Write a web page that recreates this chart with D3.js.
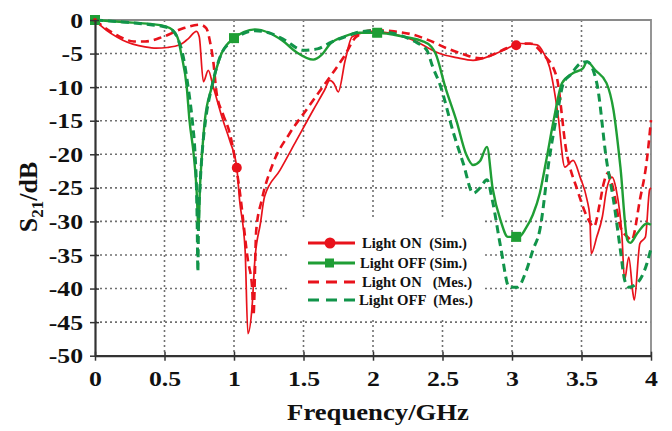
<!DOCTYPE html>
<html><head><meta charset="utf-8">
<script src="https://cdn.jsdelivr.net/npm/d3@7"></script>
<style>html,body{margin:0;padding:0;background:#fff}svg{display:block}</style>
</head><body>
<svg id="c" width="672" height="431"></svg>
<script>
// ---- data ----
const xTicks = [0, 0.5, 1, 1.5, 2, 2.5, 3, 3.5, 4];
const yTicks = [0, -5, -10, -15, -20, -25, -30, -35, -40, -45, -50];

const offSimF  = [0,0.2,0.4,0.5,0.56,0.6,0.62,0.66,0.68,0.71,0.73,0.745,0.755,0.77,0.79,0.84,0.91,1.0,1.07,1.15,1.25,1.35,1.45,1.57,1.63,1.69,1.8,1.9,2.03,2.15,2.25,2.35,2.42,2.45,2.52,2.6,2.67,2.72,2.77,2.82,2.86,2.92,2.97,3.05,3.1,3.15,3.2,3.25,3.3,3.36,3.44,3.51,3.54,3.6,3.68,3.73,3.78,3.83,3.85,3.9,3.97,4.0];
const offSimDB = [0,-0.3,-0.6,-0.9,-1.5,-3,-5,-10,-15,-20,-25,-31,-25,-20,-15,-10,-5,-2.7,-1.8,-1.4,-1.9,-3.1,-4.8,-5.9,-5.2,-3.6,-2.4,-1.9,-1.9,-2.2,-2.6,-3.1,-4,-5,-10,-15,-20,-21.6,-21,-18.9,-25,-30,-32.3,-32.3,-31,-29,-25.8,-20.5,-14.9,-9.4,-7.9,-7.2,-6.2,-7.5,-9.4,-13.4,-21.9,-32.8,-33.2,-31.8,-30.3,-30.5];

const offMesF  = [0,0.2,0.4,0.5,0.56,0.6,0.63,0.67,0.7,0.72,0.73,0.735,0.74,0.745,0.755,0.77,0.795,0.84,0.91,1.0,1.07,1.15,1.25,1.35,1.5,1.6,1.7,1.8,1.9,2.0,2.1,2.2,2.3,2.35,2.39,2.43,2.48,2.58,2.65,2.72,2.77,2.82,2.86,2.92,2.98,3.04,3.1,3.15,3.2,3.27,3.33,3.37,3.42,3.49,3.54,3.61,3.68,3.73,3.78,3.81,3.84,3.9,3.97,4.0];
const offMesDB = [0,-0.3,-0.7,-1.0,-1.6,-3,-5,-10,-15,-20,-25,-30,-37.5,-30,-25,-20,-15,-10,-5,-3,-2,-1.6,-1.9,-2.8,-4.5,-4.3,-3.3,-2.5,-1.8,-1.6,-1.8,-2.3,-3.2,-3.8,-4.6,-7,-9.5,-16.9,-21.4,-25.8,-25,-23.8,-27,-34,-39.8,-39.8,-37.5,-34.3,-31.3,-20.4,-13.4,-9.4,-8.2,-6.5,-6.2,-9.4,-20.9,-26.8,-34.3,-38.7,-39.8,-39.2,-36.3,-34];

const onSimF  = [0,0.05,0.2,0.36,0.44,0.52,0.61,0.67,0.73,0.75,0.78,0.815,0.85,0.92,0.97,1.02,1.04,1.08,1.10,1.13,1.15,1.19,1.22,1.33,1.45,1.57,1.65,1.69,1.72,1.75,1.8,1.85,2.0,2.15,2.29,2.4,2.48,2.6,2.72,2.85,2.94,3.06,3.18,3.23,3.27,3.3,3.33,3.38,3.44,3.49,3.54,3.56,3.57,3.61,3.65,3.68,3.72,3.75,3.79,3.81,3.84,3.87,3.88,3.92,3.96,3.99,4.0];
const onSimDB = [0,-1,-3,-4,-4.2,-4.1,-3.7,-2.8,-1.7,-2.5,-9.2,-7.5,-9.9,-14.9,-18,-22,-26.8,-34.3,-46.7,-42.7,-35.8,-30.3,-26.3,-22.4,-17.9,-13.4,-10.5,-9,-9.5,-10.7,-6,-2.5,-1.7,-2.1,-3,-4.2,-5,-5.6,-6,-5.3,-4.5,-3.5,-3.7,-5,-7,-10,-14,-21.9,-20.9,-23.4,-26.8,-29.3,-34.8,-32.3,-29.3,-25.3,-23.4,-25.3,-31.8,-38.7,-35.3,-40.7,-41.7,-33.3,-32.3,-25.3,-25];

const onMesF  = [0,0.06,0.17,0.28,0.36,0.49,0.64,0.755,0.8,0.83,0.85,0.875,0.92,0.97,1.04,1.10,1.13,1.14,1.16,1.2,1.28,1.4,1.52,1.62,1.71,1.79,1.88,2.0,2.15,2.29,2.4,2.53,2.65,2.77,2.88,2.96,3.05,3.13,3.22,3.32,3.39,3.47,3.54,3.59,3.63,3.66,3.69,3.73,3.78,3.83,3.86,3.92,3.97,4.0];
const onMesDB = [0,-1,-2.4,-3.2,-3.2,-2.5,-1.2,-0.7,-1.2,-3.5,-6,-10.9,-14,-16.9,-25.3,-35.8,-39.7,-44,-31.3,-26.8,-21.4,-16.9,-13.4,-10.5,-7.9,-5.5,-2.5,-1.5,-1.7,-2.2,-3,-4.2,-5.1,-5.7,-5,-4.2,-3.6,-3.5,-5,-8.4,-19.4,-25.3,-29.3,-30.8,-27.5,-24.3,-22.8,-25.3,-30.8,-32.3,-32.8,-26.8,-20.9,-14.9];

const offMarkF = [0, 1.0, 2.03, 3.03];
const onMarkF  = [1.02, 3.03];

const legendLabels = ["Light ON  (Sim.)", "Light OFF (Sim.)", "Light ON   (Mes.)", "Light OFF  (Mes.)"];

// ---- drawing ----
const RED = "#e8121b", GREEN = "#1f9e35", GREEN_D = "#11944a";
const svg = d3.select("#c");
const x = d3.scaleLinear().domain([0, 4]).range([95, 651]);
const y = d3.scaleLinear().domain([-50, 0]).range([355.7, 20]);
const serif = "'Liberation Serif','Times New Roman',serif";
const STRETCH = 1.17;

function stretch(sel, k) {
  sel.each(function () {
    const w = this.getComputedTextLength();
    d3.select(this).attr("textLength", w * k).attr("lengthAdjust", "spacingAndGlyphs");
  });
}

// grid
const g = svg.append("g");
g.selectAll("line.gy").data(yTicks.filter(d => d !== 0 && d !== -50)).join("line")
  .attr("x1", x(0)).attr("x2", x(4)).attr("y1", d => y(d)).attr("y2", d => y(d))
  .attr("stroke", "#707070").attr("stroke-width", 1.6).attr("stroke-dasharray", "2,3");
g.selectAll("line.gx").data(xTicks.filter(d => d !== 0 && d !== 4)).join("line")
  .attr("y1", y(0)).attr("y2", y(-50)).attr("x1", d => x(d)).attr("x2", d => x(d))
  .attr("stroke", "#707070").attr("stroke-width", 1.6).attr("stroke-dasharray", "2,3");

// legend background (covers grid)
svg.append("rect").attr("x", 287).attr("y", 217).attr("width", 195).attr("height", 102).attr("fill", "#fff");

// top/right frame
svg.append("path").attr("d", `M${x(0)},${y(0)}H${x(4)}V${y(-50)}`).attr("fill", "none")
  .attr("stroke", "#8a8a8a").attr("stroke-width", 1.8);

// curves
const line = (F, D) => d3.line().x((d, i) => x(F[i])).y((d, i) => y(D[i])).curve(d3.curveMonotoneX)(F);
svg.append("path").attr("d", line(onSimF, onSimDB)).attr("fill", "none").attr("stroke", RED).attr("stroke-width", 1.7);
svg.append("path").attr("d", line(onMesF, onMesDB)).attr("fill", "none").attr("stroke", RED).attr("stroke-width", 2.6).attr("stroke-dasharray", "8,5");
svg.append("path").attr("d", line(offSimF, offSimDB)).attr("fill", "none").attr("stroke", GREEN).attr("stroke-width", 2.4);
svg.append("path").attr("d", line(offMesF, offMesDB)).attr("fill", "none").attr("stroke", GREEN_D).attr("stroke-width", 3).attr("stroke-dasharray", "8,5");

// markers
const interp = (F, D, f) => { for (let i = 1; i < F.length; i++) if (f <= F[i]) { const t = (f - F[i-1]) / (F[i] - F[i-1]); return D[i-1] + t * (D[i] - D[i-1]); } return D[D.length-1]; };
svg.selectAll("rect.m").data(offMarkF).join("rect")
  .attr("x", d => x(d) - 5).attr("y", d => y(interp(offSimF, offSimDB, d)) - 5).attr("width", 10).attr("height", 10).attr("fill", GREEN);
svg.selectAll("circle.m").data(onMarkF).join("circle")
  .attr("cx", d => x(d)).attr("cy", d => y(interp(onSimF, onSimDB, d))).attr("r", 5).attr("fill", RED);
svg.append("circle").attr("cx", x(0)).attr("cy", y(0)).attr("r", 2).attr("fill", RED);

// axes
const ax = svg.append("g").attr("transform", `translate(0,${y(-50)})`)
  .call(d3.axisBottom(x).tickValues(xTicks).tickFormat(d => String(d)).tickSize(5).tickSizeOuter(0));
ax.select(".domain").attr("stroke", "#333").attr("stroke-width", 2.2);
ax.selectAll(".tick line").attr("stroke", "#333").attr("stroke-width", 1.5).attr("y1", -4);
ax.selectAll("text").attr("font-family", serif).attr("font-weight", "bold").attr("font-size", 22)
  .attr("fill", "#111").attr("dy", null).attr("y", 30).call(stretch, STRETCH);

const ay = svg.append("g").attr("transform", `translate(${x(0)},0)`)
  .call(d3.axisLeft(y).tickValues(yTicks).tickFormat(d => String(d)).tickSize(5).tickSizeOuter(0));
ay.select(".domain").attr("stroke", "#333").attr("stroke-width", 2.2);
ay.selectAll(".tick line").attr("stroke", "#333").attr("stroke-width", 1.5).attr("x1", 4);
ay.selectAll("text").attr("font-family", serif).attr("font-weight", "bold").attr("font-size", 22)
  .attr("fill", "#111").attr("x", -12).call(stretch, STRETCH);

// axis titles
svg.append("text").attr("x", 378).attr("y", 420).attr("text-anchor", "middle")
  .attr("font-family", serif).attr("font-weight", "bold").attr("font-size", 23).attr("fill", "#111")
  .text("Frequency/GHz").call(stretch, 1.16);

const yt = svg.append("text").attr("transform", "translate(37,197) rotate(-90)").attr("text-anchor", "middle")
  .attr("font-family", serif).attr("font-weight", "bold").attr("font-size", 26).attr("fill", "#111");
yt.append("tspan").text("S");
yt.append("tspan").attr("font-size", 17).attr("dy", 6).text("21");
yt.append("tspan").attr("dy", -6).text("/dB");

// legend
const rows = [243, 263, 282, 300];
const textX = [362, 360, 362, 359];
const textW = [105, 107, 110, 114];
const lg = svg.append("g");
const styles = [
  {c: RED, w: 3, dash: null, mark: "circle"},
  {c: GREEN, w: 3, dash: null, mark: "square"},
  {c: RED, w: 2.8, dash: "11,7", mark: null},
  {c: GREEN_D, w: 3, dash: "11,7", mark: null}
];
styles.forEach((s, i) => {
  lg.append("line").attr("x1", 308).attr("x2", 355).attr("y1", rows[i]).attr("y2", rows[i])
    .attr("stroke", s.c).attr("stroke-width", s.w).attr("stroke-dasharray", s.dash);
  if (s.mark === "circle") lg.append("circle").attr("cx", 330).attr("cy", rows[i]).attr("r", 5.5).attr("fill", s.c);
  if (s.mark === "square") lg.append("rect").attr("x", 325).attr("y", rows[i] - 4.5).attr("width", 9).attr("height", 9).attr("fill", s.c);
  lg.append("text").attr("x", textX[i]).attr("y", rows[i] + 5)
    .attr("font-family", serif).attr("font-weight", "bold").attr("font-size", 14.5).attr("fill", "#111")
    .style("white-space", "pre").text(legendLabels[i])
    .attr("textLength", textW[i]).attr("lengthAdjust", "spacingAndGlyphs");
});
</script>
</body></html>
